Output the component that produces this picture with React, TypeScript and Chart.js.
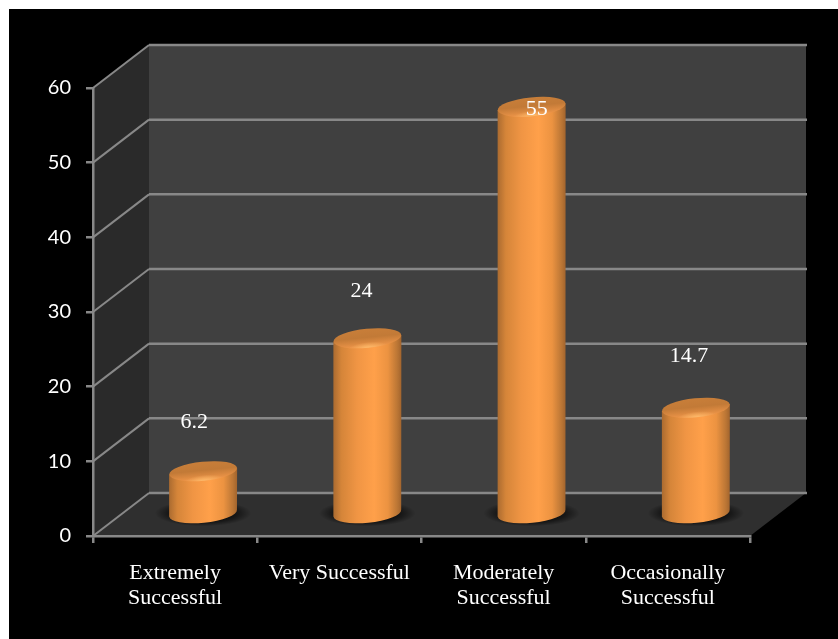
import { useEffect, useRef } from "react";
import { Chart, registerables } from "chart.js";

Chart.register(...registerables);

const categories = [
  ["Extremely", "Successful"],
  "Very Successful",
  ["Moderately", "Successful"],
  ["Occasionally", "Successful"],
];
const values = [6.2, 24, 55, 14.7];
const valueLabels = ["6.2", "24", "55", "14.7"];

// Hand-placed value labels, relative to the top of each cylinder.
const labelNudgeX = [-9, -6, 5, -7];
const labelNudgeY = [-49, -47, 2, -52];

const DEPTH_X = 56;
const DEPTH_Y = 43;
const GRID = "#888888";
const TILT = -0.1;
const RY = 9.5;

const room = {
  id: "room",
  beforeDraw(chart: any) {
    const { ctx, chartArea: a, scales } = chart;
    const { left, right, top, bottom } = a;
    const backL = left + DEPTH_X;
    const backR = right + DEPTH_X;
    ctx.save();
    ctx.fillStyle = "#000";
    ctx.fillRect(0, 0, chart.width, chart.height);

    ctx.fillStyle = "#404040";
    ctx.fillRect(backL, top - DEPTH_Y, backR - backL, bottom - top);

    ctx.fillStyle = "#2a2a2a";
    ctx.beginPath();
    ctx.moveTo(left, top);
    ctx.lineTo(backL, top - DEPTH_Y);
    ctx.lineTo(backL, bottom - DEPTH_Y);
    ctx.lineTo(left, bottom);
    ctx.closePath();
    ctx.fill();

    ctx.fillStyle = "#2f2f2f";
    ctx.beginPath();
    ctx.moveTo(left, bottom);
    ctx.lineTo(backL, bottom - DEPTH_Y);
    ctx.lineTo(backR, bottom - DEPTH_Y);
    ctx.lineTo(right, bottom);
    ctx.closePath();
    ctx.fill();

    ctx.strokeStyle = GRID;
    for (const tick of scales.y.ticks) {
      const y = scales.y.getPixelForValue(tick.value);
      ctx.lineWidth = 2.5;
      ctx.beginPath();
      ctx.moveTo(backL, y - DEPTH_Y);
      ctx.lineTo(backR + 1, y - DEPTH_Y);
      ctx.stroke();
      ctx.lineWidth = 2;
      ctx.beginPath();
      ctx.moveTo(left, y);
      ctx.lineTo(backL, y - DEPTH_Y);
      ctx.stroke();
    }
    ctx.restore();
  },
};

const cylinders = {
  id: "cylinders",
  afterDatasetsDraw(chart: any) {
    const { ctx } = chart;
    const bars = chart.getDatasetMeta(0).data;
    ctx.save();
    bars.forEach((bar: any, i: number) => {
      const { x, y, base, width } = bar.getProps(["x", "y", "base", "width"]);
      const cx = x + DEPTH_X / 2;
      const rx = width / 2;
      const bottomY = base - DEPTH_Y / 2;
      const topY = y - DEPTH_Y / 2 + 3;

      // Contact shadow on the floor
      ctx.save();
      ctx.translate(cx, bottomY);
      ctx.scale(1, 0.27);
      const shadow = ctx.createRadialGradient(0, 0, rx * 0.7, 0, 0, rx * 1.42);
      shadow.addColorStop(0, "rgba(0,0,0,0.8)");
      shadow.addColorStop(0.5, "rgba(0,0,0,0.45)");
      shadow.addColorStop(1, "rgba(0,0,0,0)");
      ctx.fillStyle = shadow;
      ctx.beginPath();
      ctx.arc(0, 0, rx * 1.42, 0, Math.PI * 2);
      ctx.fill();
      ctx.restore();

      // Cylinder wall
      const side = ctx.createLinearGradient(cx - rx, 0, cx + rx, 0);
      side.addColorStop(0, "#ab6b30");
      side.addColorStop(0.12, "#d58539");
      side.addColorStop(0.35, "#f09544");
      side.addColorStop(0.6, "#ffa04a");
      side.addColorStop(0.8, "#ec9341");
      side.addColorStop(0.94, "#bb7635");
      side.addColorStop(1, "#a2642d");
      const dy = rx * Math.sin(TILT);
      ctx.fillStyle = side;
      ctx.beginPath();
      ctx.moveTo(cx - rx, topY - dy);
      ctx.lineTo(cx - rx, bottomY - dy);
      ctx.ellipse(cx, bottomY, rx, RY, TILT, Math.PI, 0, true);
      ctx.lineTo(cx + rx, topY + dy);
      ctx.closePath();
      ctx.fill();

      // Lid: shaded top face, brightening towards the front edge
      ctx.save();
      ctx.translate(cx, topY);
      ctx.rotate(TILT);
      ctx.scale(1, RY / rx);
      ctx.beginPath();
      ctx.arc(0, 0, rx, 0, Math.PI * 2);
      const lid = ctx.createLinearGradient(0, -rx, 0, rx);
      lid.addColorStop(0, "#c87e39");
      lid.addColorStop(0.45, "#c27a37");
      lid.addColorStop(0.72, "#d98840");
      lid.addColorStop(1, "#f3984a");
      ctx.fillStyle = lid;
      ctx.fill();
      const glint = ctx.createRadialGradient(0, rx, 0, 0, rx, rx * 0.6);
      glint.addColorStop(0, "rgba(255,190,110,0.9)");
      glint.addColorStop(1, "rgba(255,190,110,0)");
      ctx.fillStyle = glint;
      ctx.fill();
      ctx.restore();

      // Value label
      ctx.fillStyle = "#fff";
      ctx.font = '22px "Liberation Serif"';
      ctx.textAlign = "center";
      ctx.textBaseline = "middle";
      ctx.fillText(valueLabels[i], cx + labelNudgeX[i], topY + labelNudgeY[i]);
    });
    ctx.restore();
  },
};

export default function App() {
  const ref = useRef<HTMLCanvasElement>(null);
  useEffect(() => {
    const chart = new Chart(ref.current!, {
      type: "bar",
      data: {
        labels: categories as any,
        datasets: [
          {
            data: values,
            backgroundColor: "transparent",
            borderWidth: 0,
            barPercentage: 0.414,
            categoryPercentage: 1,
          },
        ],
      },
      plugins: [room, cylinders],
      options: {
        responsive: false,
        animation: false,
        layout: { padding: { left: 0, top: 79, right: 88, bottom: 0 } },
        plugins: { legend: { display: false }, tooltip: { enabled: false } },
        scales: {
          x: {
            afterFit: (s: any) => {
              s.height = 103;
            },
            border: { color: GRID, width: 2.5 },
            grid: { drawOnChartArea: false, color: GRID, lineWidth: 2.5, tickLength: 7, offset: true },
            ticks: {
              color: "#fff",
              font: { family: '"Liberation Serif"', size: 22, lineHeight: 1.14 },
              padding: 18,
              maxRotation: 0,
              autoSkip: false,
            },
          },
          y: {
            min: 0,
            max: 60,
            afterFit: (s: any) => {
              s.width = 84;
            },
            border: { color: GRID, width: 2.5 },
            grid: { drawOnChartArea: false, color: GRID, lineWidth: 2.5, tickLength: 7 },
            ticks: {
              stepSize: 10,
              color: "#fff",
              font: { family: "Lato", size: 20 },
              padding: 15,
            },
          },
        },
      } as any,
    });
    return () => chart.destroy();
  }, []);
  return (
    <canvas
      ref={ref}
      width={829}
      height={630}
      style={{ position: "absolute", left: 9, top: 9, display: "block" }}
    />
  );
}
